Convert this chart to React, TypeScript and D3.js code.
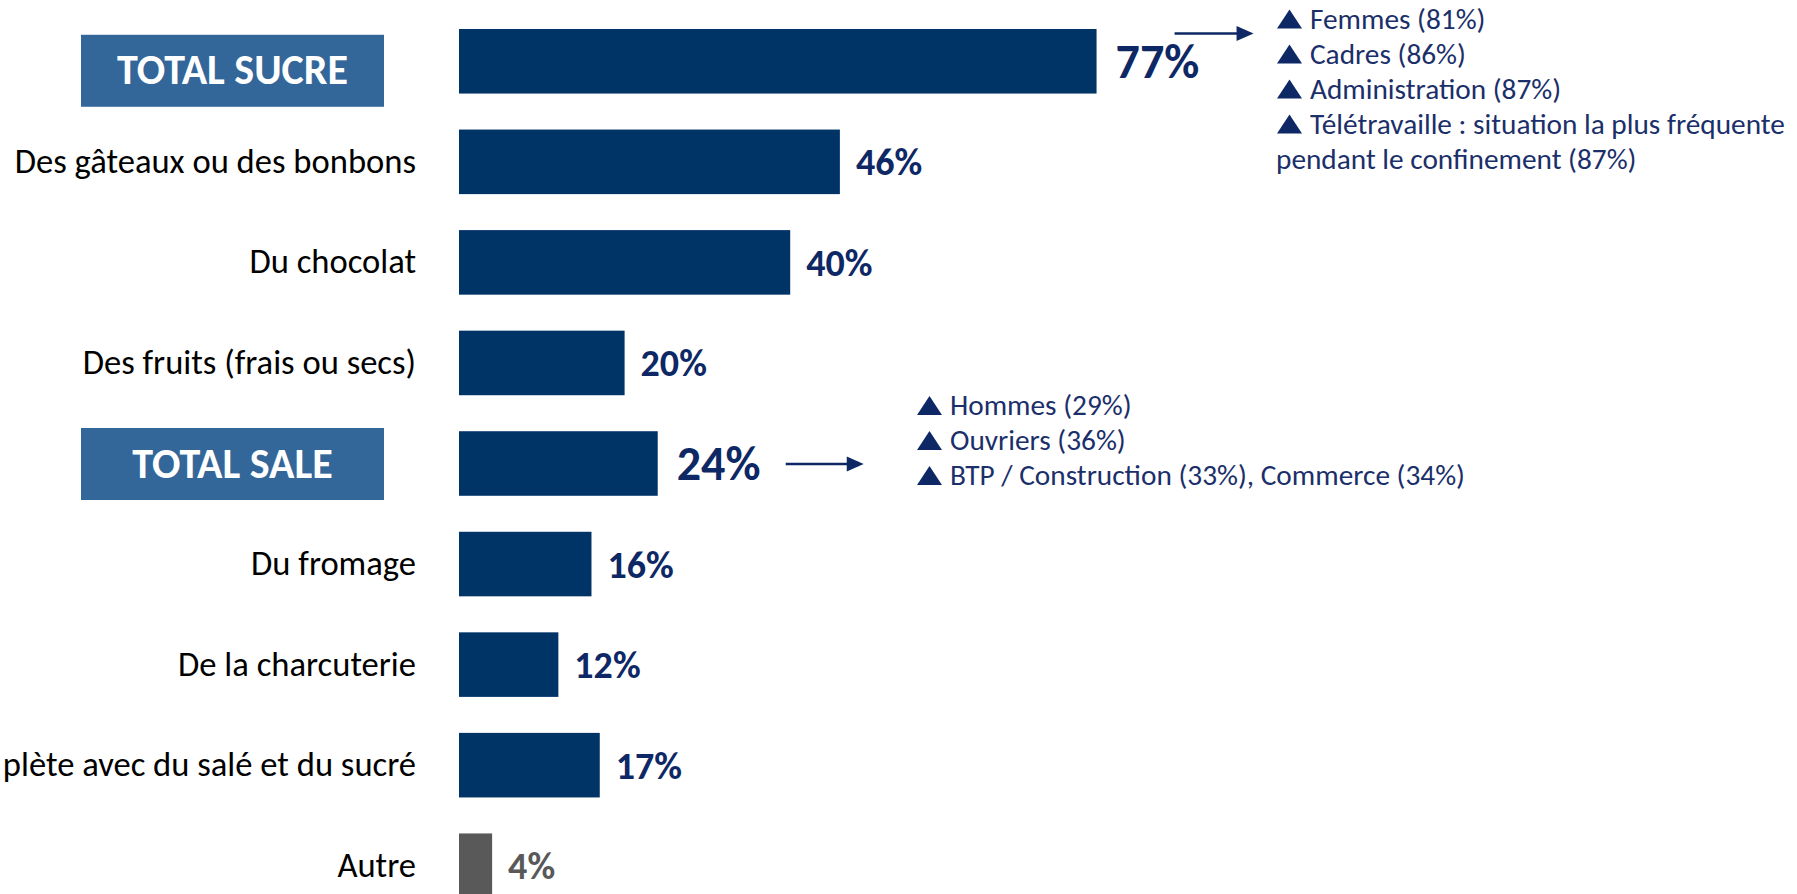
import { useEffect } from "react";
import * as d3 from "d3";

// categories, top to bottom (the long label is cut at the left edge in the source slide)
const categories = [
  "TOTAL SUCRE",
  "Des gâteaux ou des bonbons",
  "Du chocolat",
  "Des fruits (frais ou secs)",
  "TOTAL SALE",
  "Du fromage",
  "De la charcuterie",
  "plète avec du salé et du sucré",
  "Autre",
];
const values = [77, 46, 40, 20, 24, 16, 12, 17, 4];
const kinds = ["total", "item", "item", "item", "total", "item", "item", "item", "other"];

// sub-group callouts
const sucreNotes = [
  ["Femmes (81%)"],
  ["Cadres (86%)"],
  ["Administration (87%)"],
  ["Télétravaille : situation la plus fréquente", "pendant le confinement (87%)"],
];
const saleNotes = [
  ["Hommes (29%)"],
  ["Ouvriers (36%)"],
  ["BTP / Construction (33%), Commerce (34%)"],
];

const W = 1797;
const H = 894;
const NAVY = "#003366";
const LABEL_NAVY = "#0e2866";
const BOX = "#336699";
const GREY = "#595959";
const FONT = "Carlito, Calibri, 'Open Sans', sans-serif";

function Notes({ lines, x, y0, step }: { lines: string[][]; x: number; y0: number; step: number }) {
  const rows: { text: string; bullet: boolean }[] = [];
  lines.forEach((l) => l.forEach((t, j) => rows.push({ text: t, bullet: j === 0 })));
  return (
    <g>
      {rows.map((r, i) => {
        const base = y0 + i * step;
        return (
          <g key={i}>
            {r.bullet && (
              <path
                d={`M${x},${base} L${x + 25},${base} L${x + 12.5},${base - 19} Z`}
                fill={LABEL_NAVY}
              />
            )}
            <text
              x={r.bullet ? x + 33 : x - 1}
              y={base}
              fontFamily={FONT}
              fontSize={29.3}
              fill="#1b2f6a"
            >
              {r.text}
            </text>
          </g>
        );
      })}
    </g>
  );
}

export default function App() {
  useEffect(() => {
    document.body.style.margin = "0";
    document.body.style.overflow = "hidden";
  }, []);

  const x = d3.scaleLinear().domain([0, 100]).range([459, 459 + 828]);
  const y = d3
    .scaleBand<string>()
    .domain(categories)
    .range([11, 916])
    .paddingInner(0.358)
    .paddingOuter(0.179);
  const bw = y.bandwidth();

  const iSucre = 0;
  const iSale = 4;
  const cy = (i: number) => (y(categories[i]) ?? 0) + bw / 2;

  // arrows
  const arrow1 = { x1: x(values[iSucre]) + 78, x2: x(values[iSucre]) + 157, y: (y(categories[iSucre]) ?? 0) + 4.5 };
  const arrow2 = { x1: x(values[iSale]) + 128, x2: x(values[iSale]) + 206, y: cy(iSale) + 0.5 };

  return (
    <svg
      width={W}
      height={H}
      style={{ position: "absolute", left: 0, top: 0, display: "block", background: "#fff" }}
    >
      {categories.map((c, i) => {
        const top = y(c) ?? 0;
        const mid = top + bw / 2;
        const kind = kinds[i];
        const isTotal = kind === "total";
        const fill = kind === "other" ? GREY : NAVY;
        const vSize = isTotal ? 48 : 38;
        const boxShift = i === iSucre ? 9.5 : 0.5;
        return (
          <g key={c}>
            <rect x={x(0)} y={top} width={x(values[i]) - x(0)} height={bw} fill={fill} />
            {isTotal ? (
              <g>
                <rect x={81} y={mid - 36 + boxShift} width={303} height={72} fill={BOX} />
                <text
                  x={232.5}
                  y={mid + boxShift + 13.5}
                  textAnchor="middle"
                  fontFamily={FONT}
                  fontWeight={700}
                  fontSize={42}
                  fill="#fff"
                >
                  {c}
                </text>
              </g>
            ) : (
              <text
                x={416}
                y={mid + 11}
                textAnchor="end"
                fontFamily={FONT}
                fontSize={34.6}
                fill="#000"
              >
                {c}
              </text>
            )}
            <text
              x={x(values[i]) + (isTotal ? 19 : 16)}
              y={mid + (isTotal ? 16.5 : 13.5)}
              fontFamily={FONT}
              fontWeight={700}
              fontSize={vSize}
              fill={kind === "other" ? GREY : LABEL_NAVY}
            >
              {values[i]}%
            </text>
          </g>
        );
      })}

      {[arrow1, arrow2].map((a, i) => (
        <g key={i}>
          <line x1={a.x1} x2={a.x2 - 14} y1={a.y} y2={a.y} stroke={LABEL_NAVY} strokeWidth={2.5} />
          <path d={`M${a.x2},${a.y} L${a.x2 - 17},${a.y - 7.5} L${a.x2 - 17},${a.y + 7.5} Z`} fill={LABEL_NAVY} />
        </g>
      ))}

      <Notes lines={sucreNotes} x={1277} y0={28.5} step={35} />
      <Notes lines={saleNotes} x={917} y0={415} step={35} />
    </svg>
  );
}
